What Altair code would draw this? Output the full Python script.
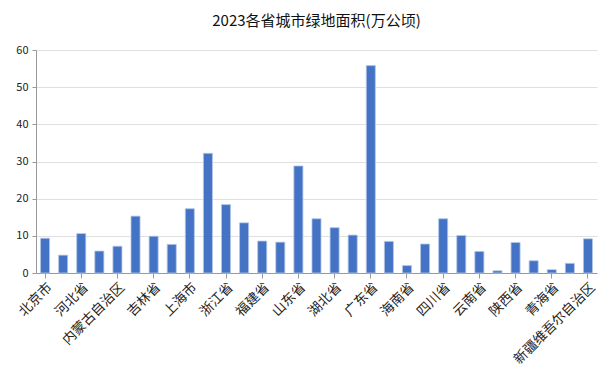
import altair as alt
import pandas as pd

provinces = ["北京市", "天津市", "河北省", "山西省", "内蒙古自治区", "辽宁省", "吉林省", "黑龙江省",
             "上海市", "江苏省", "浙江省", "安徽省", "福建省", "江西省", "山东省", "河南省",
             "湖北省", "湖南省", "广东省", "广西壮族自治区", "海南省", "重庆市", "四川省", "贵州省",
             "云南省", "西藏自治区", "陕西省", "甘肃省", "青海省", "宁夏回族自治区", "新疆维吾尔自治区"]
values = [9.35, 4.8, 10.6, 5.9, 7.2, 15.3, 9.9, 7.7,
          17.3, 32.2, 18.4, 13.5, 8.6, 8.3, 28.8, 14.6,
          12.2, 10.2, 55.8, 8.5, 2.0, 7.8, 14.6, 10.1,
          5.8, 0.6, 8.2, 3.3, 0.9, 2.6, 9.2]
shown_labels = provinces[::2]

df = pd.DataFrame({"province": provinces, "value": values})

font = "Noto Sans CJK SC"

chart = alt.Chart(df).mark_bar(
    color="#4472C4", stroke="#B4C7E7", strokeWidth=0.8
).encode(
    x=alt.X("province:N", sort=provinces,
            scale=alt.Scale(paddingInner=0.5, paddingOuter=0.25),
            axis=alt.Axis(title=None, values=shown_labels, labelAngle=-45,
                          labelAlign="right", labelBaseline="top",
                          labelFontSize=13.5, labelFont=font, labelColor="#222",
                          domainColor="#999", tickColor="#999", tickSize=5,
                          labelPadding=2)),
    y=alt.Y("value:Q", scale=alt.Scale(domain=[0, 60]),
            axis=alt.Axis(title=None, values=[0, 10, 20, 30, 40, 50, 60],
                          labelFontSize=11, labelFont=font, labelColor="#222",
                          domainColor="#999", tickColor="#999", tickSize=4,
                          gridColor="#E0E0E0", labelPadding=4)),
).properties(
    width=561, height=223,
    title=alt.TitleParams("2023各省城市绿地面积(万公顷)", fontSize=15, fontWeight="normal",
                          font=font, color="#111", anchor="middle", offset=15),
    autosize=alt.AutoSizeParams(type="none"),
    padding={"left": 28, "top": 42, "right": 4, "bottom": 96},
).configure_view(stroke=None)

chart.save("out.html", embed_options={"renderer": "svg", "actions": False})
